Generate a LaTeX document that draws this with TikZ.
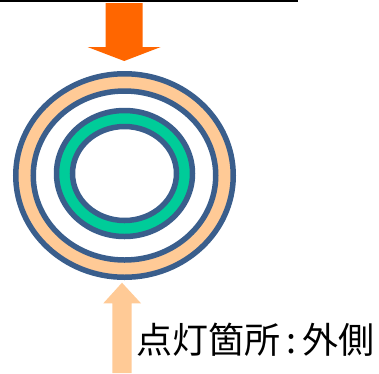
\documentclass[tikz,border=0pt]{standalone}
\usepackage{fontspec}
\newfontfamily\jpfont{Noto Sans CJK JP}
\definecolor{ringblue}{HTML}{3A5E8C}
\definecolor{peach}{HTML}{FFCA96}
\definecolor{mint}{HTML}{00CC99}
\definecolor{hotorange}{HTML}{FF6600}

\begin{document}
\begin{tikzpicture}[x=1pt, y=-1pt]
\def\cx{124.5}
\def\cy{175.5}
\def\edgewidth{5.5pt}
\useasboundingbox (0,0) rectangle (379,373);

% top rule
\draw[line width=2.4pt] (0,1.2) -- (298,1.2);

\begin{scope}[shift={(\cx,\cy)}] % OUTER RING
\fill[peach, even odd rule] (0,0) ellipse (109 and 101.75) (0,0) ellipse (91 and 84.5);
\draw[ringblue, line width=\edgewidth] (0,0) ellipse (108.75 and 101.75);
\draw[ringblue, line width=\edgewidth] (0,0) ellipse (91.25 and 84.5);
\end{scope}

\begin{scope}[shift={(\cx,\cy-2)}] % INNER RING
\fill[mint, even odd rule] (0,0) ellipse (68 and 63) (0,0) ellipse (52 and 47);
\draw[ringblue, line width=\edgewidth] (0,0) ellipse (68 and 63);
\draw[ringblue, line width=\edgewidth] (0,0) ellipse (52 and 47);
\end{scope}

% arrow from above
\fill[hotorange] (105.7,3) -- (142.7,3) -- (142.7,47) -- (160.7,47)
  -- (124.2,61) -- (87.5,47) -- (105.7,47) -- cycle;

% arrow from below
\fill[peach] (112.3,373) -- (112.3,303.3) -- (103.3,303.3) -- (122,282.7)
  -- (141,303.3) -- (131.7,303.3) -- (131.7,373) -- cycle;

\node[anchor=base west, inner sep=0pt] (place) at (136,353)
  {\jpfont\fontsize{36}{40}\selectfont 点灯箇所\,:\,外側};
\end{tikzpicture}
\end{document}
